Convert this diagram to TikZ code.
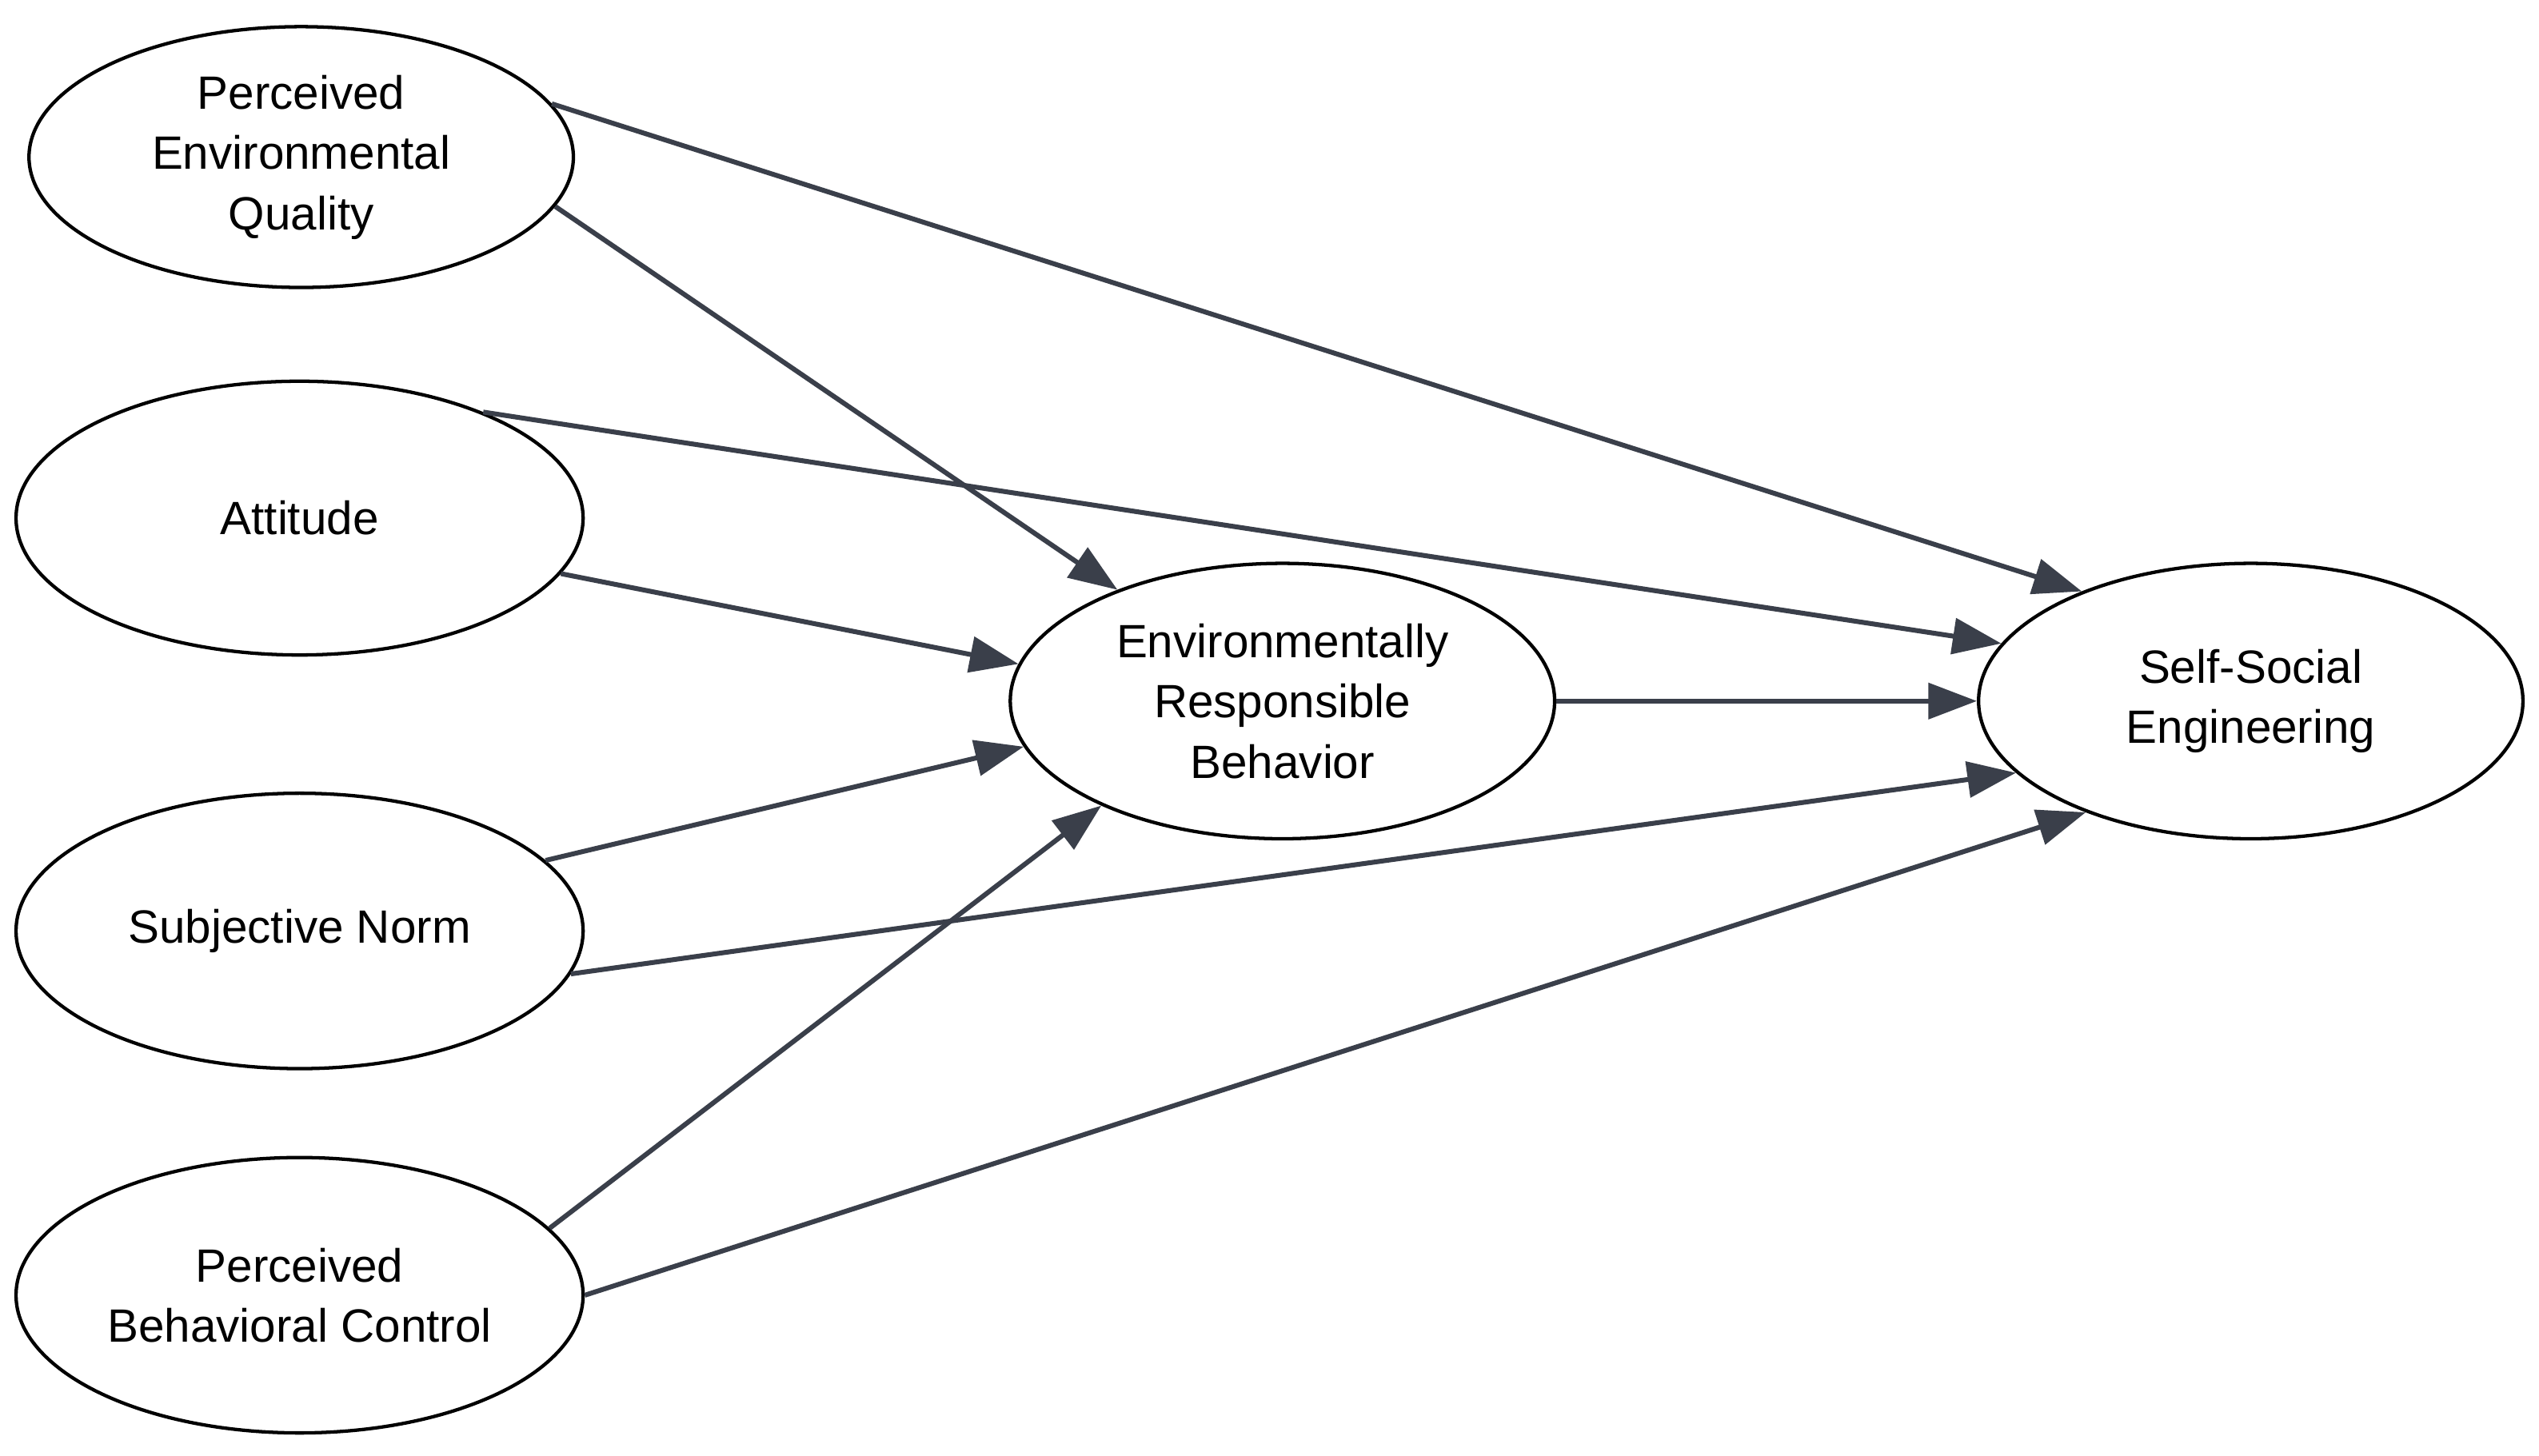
\documentclass[tikz,border=0pt]{standalone}
\usepackage{fontspec}
\setmainfont{Liberation Sans}
\usetikzlibrary{shapes.geometric,arrows.meta}
\definecolor{arr}{HTML}{3A3F4A}
\begin{document}
\begin{tikzpicture}[x=0.01cm,y=-0.01cm,
  el/.style={ellipse,draw=black,line width=0.6pt,inner sep=0pt,align=center,font=\fontsize{8.2}{10.6}\selectfont},
  ar/.style={draw=arr,line width=0.85pt,-{Triangle[length=0.3cm,width=0.22cm]}}]
\useasboundingbox (0,0) rectangle (1568,899);
\node[el,minimum width=3.36cm,minimum height=1.61cm] (peq) at (186,97) {Perceived\\Environmental\\Quality};
\node[el,minimum width=3.5cm,minimum height=1.69cm] (att) at (185,320) {Attitude};
\node[el,minimum width=3.5cm,minimum height=1.7cm] (sn) at (185,575) {Subjective Norm};
\node[el,minimum width=3.5cm,minimum height=1.7cm] (pbc) at (185,800) {Perceived\\Behavioral Control};
\node[el,minimum width=3.36cm,minimum height=1.7cm] (erb) at (792,433) {Environmentally\\Responsible\\Behavior};
\node[el,minimum width=3.36cm,minimum height=1.7cm] (sse) at (1390,433) {Self-Social\\Engineering};
\draw[ar] (peq.12.5) -- (sse.147);
\draw[ar] (peq.-11) -- (erb.146);
\draw[ar] (att.30) -- (sse.167);
\draw[ar] (att.-12) -- (erb.172);
\draw[ar] (erb.east) -- (sse.west);
\draw[ar] (sn.16.6) -- (erb.190);
\draw[ar] (sn.-9.6) -- (sse.197);
\draw[ar] (pbc.15.8) -- (erb.210);
\draw[ar] (pbc.0) -- (sse.214);
\end{tikzpicture}
\end{document}
